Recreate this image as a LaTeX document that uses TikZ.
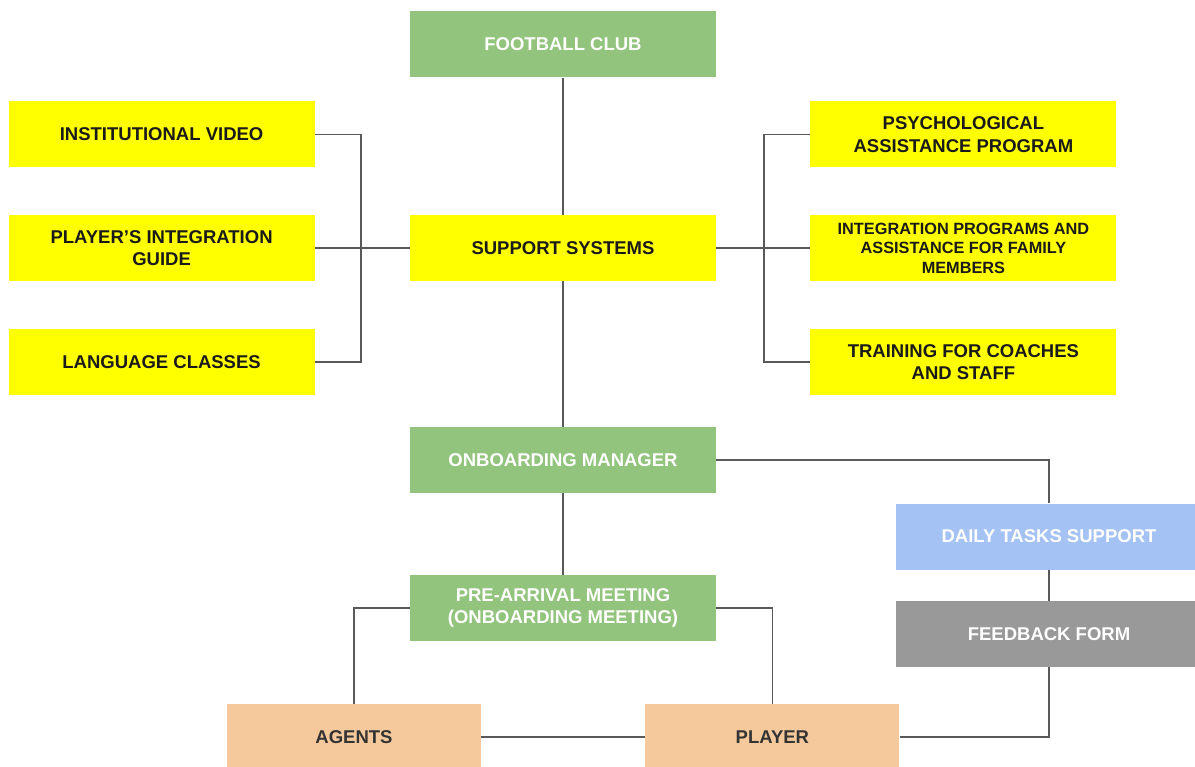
\documentclass[tikz,border=0pt]{standalone}
\usepackage{fontspec}
\setmainfont{Liberation Sans}
\usepackage{xcolor}
\usepackage{tikz}
\usetikzlibrary{positioning}
\definecolor{ink}{HTML}{1A1A1A}
\definecolor{clubgreen}{HTML}{93C47D}
\definecolor{sysyellow}{HTML}{FFFF00}
\definecolor{taskblue}{HTML}{A4C2F4}
\definecolor{formgray}{HTML}{999999}
\definecolor{peach}{HTML}{F5C99C}
\definecolor{linkgray}{HTML}{595959}
\tikzset{
  orgbox/.style={rectangle,minimum width=306pt,minimum height=66pt,inner sep=2pt,
    align=center,font=\fontsize{18.5}{22.5}\selectfont\bfseries},
  greenbox/.style={orgbox,fill=clubgreen,text=white},
  yellowbox/.style={orgbox,fill=sysyellow,text=ink},
  bluebox/.style={orgbox,fill=taskblue,text=white},
  graybox/.style={orgbox,fill=formgray,text=white},
  peachbox/.style={orgbox,fill=peach,text=black!80,minimum width=254pt},
  link/.style={draw=linkgray,line width=1.6pt}
}

\begin{document}
\begin{tikzpicture}[x=1pt,y=1pt,node distance=48pt]
\useasboundingbox (0,0) rectangle (1195,-767);
\node[greenbox] (club) at (563,-44.5) {FOOTBALL CLUB};
\node[yellowbox,below=137pt of club] (support) {SUPPORT SYSTEMS};
\node[yellowbox,left=95pt of support] (guide) {PLAYER’S INTEGRATION\\GUIDE};
\node[yellowbox,above=47pt of guide] (video) {INSTITUTIONAL VIDEO};
\node[yellowbox,below=of guide] (lang) {LANGUAGE CLASSES};
\node[yellowbox,right=94pt of support,font=\fontsize{16.3}{19.5}\selectfont\bfseries] (family) {INTEGRATION PROGRAMS AND\\ASSISTANCE FOR FAMILY\\MEMBERS};
\node[yellowbox,above=47pt of family] (psych) {PSYCHOLOGICAL\\ASSISTANCE PROGRAM};
\node[yellowbox,below=of family] (training) {TRAINING FOR COACHES\\AND STAFF};
\node[greenbox,below=145.5pt of support] (manager) {ONBOARDING MANAGER};
\node[greenbox,below=82pt of manager] (meeting) {PRE-ARRIVAL MEETING\\(ONBOARDING MEETING)};
\node[bluebox] (daily) at (1049,-536.5) {DAILY TASKS SUPPORT};
\node[graybox,below=31pt of daily] (form) {FEEDBACK FORM};
\node[peachbox] (agents) at (354,-737) {AGENTS};
\node[peachbox,right=164pt of agents] (player) {PLAYER};
\coordinate (lsplit) at (361,-247.5);
\coordinate (rsplit) at (764,-247.5);
\draw[link] (club) -- (support);
\draw[link] (guide) -- (support);
\draw[link] (video.east) -| (lsplit);
\draw[link] (lang.east) -| (lsplit);
\draw[link] (support) -- (family);
\draw[link] (psych.west) -| (rsplit);
\draw[link] (training.west) -| (rsplit);
\draw[link] (support) -- (manager);
\draw[link] (manager) -- (meeting);
\draw[link] (manager.east) -| (daily.north);
\draw[link] (daily) -- (form);
\draw[link] (form.south) |- (player.east);
\draw[link] (meeting.west) -| (agents.north);
\draw[link] (meeting.east) -| (player.north);
\draw[link] (agents) -- (player);
\end{tikzpicture}
\end{document}
